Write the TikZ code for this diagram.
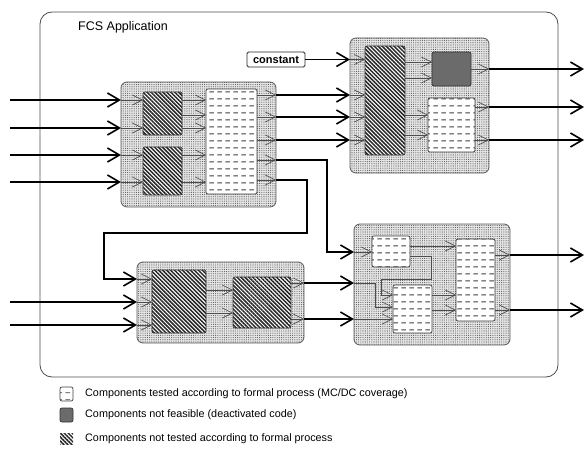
\documentclass[tikz,border=0pt]{standalone}
\usepackage{fontspec}
\setmainfont{Liberation Sans}
\usetikzlibrary{arrows.meta, patterns.meta, positioning}

% horizontal dashes used for the MC/DC boxes
\pgfdeclarepattern{
  name=hdashes,
  type=uncolored,
  bottom left={\pgfpoint{0pt}{0pt}},
  top right={\pgfpoint{8pt}{7pt}},
  tile size={\pgfpoint{8pt}{7pt}},
  code={
    \pgfsetlinewidth{1pt}
    \pgfpathmoveto{\pgfpoint{1.5pt}{3.5pt}}\pgfpathlineto{\pgfpoint{6.5pt}{3.5pt}}
    \pgfusepath{stroke}
  }
}

\begin{document}
\begin{tikzpicture}[x=1pt, y=-1pt,
    blk/.style={draw=black!65, line width=0.8pt, rounded corners=6pt,
      preaction={fill=black!10}, pattern={Dots[distance=2.2pt, radius=0.55pt]},
      pattern color=black!65, inner sep=0pt, outer sep=0pt},
    hatch/.style={draw=black!80, line width=0.7pt, rounded corners=2pt,
      preaction={fill=white}, pattern={Lines[angle=-45, distance=2.8pt, line width=1.5pt]},
      pattern color=black!85, inner sep=0pt, outer sep=0pt},
    mcdc/.style={draw=black!75, line width=0.7pt, rounded corners=2pt,
      preaction={fill=white}, pattern=hdashes, pattern color=black!75,
      inner sep=0pt, outer sep=0pt},
    dead/.style={draw=black!80, fill=black!58, line width=0.7pt, rounded corners=2pt,
      inner sep=0pt, outer sep=0pt},
    boxsize/.style 2 args={minimum width=#1pt, minimum height=#2pt},
    wire/.style={line width=1.6pt, -{Straight Barb[length=12pt, width=14pt]}},
    port/.style={line width=0.6pt, draw=black!70, -{Straight Barb[length=10pt, width=10pt]}},
    legtxt/.style={inner sep=0pt, font=\fontsize{10.8}{12}\selectfont},
  ]
  \useasboundingbox (0,0) rectangle (586,452);

  % application frame
  \node[draw=black!70, line width=0.8pt, rounded corners=12pt, boxsize={518}{365}, inner sep=0pt] (fcs) at (299,194.5) {};
  \node[anchor=west, inner sep=0pt, font=\fontsize{12.5}{14}\selectfont] (fcslbl) at (78,27) {FCS Application};
  \node[draw=black!85, line width=0.8pt, rounded corners=1.5pt, boxsize={58}{15}, inner sep=0pt, font=\fontsize{11}{12}\selectfont\bfseries] (const) at (276,59.5) {constant};

  % blocks
  \node[blk, boxsize={155}{125}] (blkA) at (198.5,144.5) {};
  \node[blk, boxsize={139}{135}] (blkB) at (419.5,105.5) {};
  \node[blk, boxsize={167}{81}] (blkD) at (220.5,302.5) {};
  \node[blk, boxsize={156}{121}] (blkC) at (432,284.5) {};

  % components
  \node[hatch, boxsize={39}{43}] (A1) at (162.5,113.5) {};
  \node[hatch, boxsize={39}{48}] (A2) at (162.5,171) {};
  \node[mcdc, boxsize={51}{105}] (A3) at (231.5,141.5) {};
  \node[hatch, boxsize={40}{109}] (B1) at (385,100.5) {};
  \node[dead, boxsize={39}{34}] (B2) at (451.5,69) {};
  \node[mcdc, boxsize={47}{54}] (B3) at (451.5,125) {};
  \node[hatch, boxsize={54}{63}] (D1) at (179,301.5) {};
  \node[hatch, boxsize={58}{51}] (D2) at (262,302.5) {};
  \node[mcdc, boxsize={38}{31}] (C1) at (391,251.5) {};
  \node[mcdc, boxsize={39}{48}] (C2) at (412.5,309) {};
  \node[mcdc, boxsize={39}{82}] (C3) at (475.5,280) {};

  % block A
  \foreach \y/\t in {100/A1, 128/A1, 155/A2, 182/A2}{
    \coordinate (src) at (10,\y);
    \draw[wire] (src) -- (blkA.west |- src);
    \draw[port] (blkA.west |- src) -- (\t.west |- src);
  }
  \foreach \y in {100, 115, 128}
    \draw[port] (A1.east |- 0,\y) -- (A3.west |- 0,\y);
  \foreach \y in {155, 182}
    \draw[port] (A2.east |- 0,\y) -- (A3.west |- 0,\y);
  \foreach \y in {95, 117, 140, 160, 180}
    \draw[port] (A3.east |- 0,\y) -- (blkA.east |- 0,\y);

  % block B
  \foreach \y in {95, 117, 140}{
    \draw[wire] (blkA.east |- 0,\y) -- (blkB.west |- 0,\y);
    \draw[port] (blkB.west |- 0,\y) -- (B1.west |- 0,\y);
  }
  \draw[wire] (const) -- (blkB.west |- const);
  \draw[port] (blkB.west |- const) -- (B1.west |- const);
  \foreach \y in {62, 78}
    \draw[port] (B1.east |- 0,\y) -- (B2.west |- 0,\y);
  \foreach \y in {115, 135}
    \draw[port] (B1.east |- 0,\y) -- (B3.west |- 0,\y);
  \foreach \y/\s in {69/B2, 107/B3, 140/B3}{
    \coordinate (dst) at (584,\y);
    \draw[port] (\s.east |- dst) -- (blkB.east |- dst);
    \draw[wire] (blkB.east |- dst) -- (dst);
  }

  % A to C and A to D
  \draw[wire] (blkA.east |- 0,160) -| (327,252) -- (blkC.west |- 0,252);
  \draw[port] (blkC.west |- 0,252) -- (C1.west |- 0,252);
  \draw[wire] (blkA.east |- 0,180) -| (307,233) -| (104,279) -- (blkD.west |- 0,279);
  \draw[port] (blkD.west |- 0,279) -- (D1.west |- 0,279);

  % block D
  \foreach \y in {302, 325}{
    \coordinate (src) at (10,\y);
    \draw[wire] (src) -- (blkD.west |- src);
    \draw[port] (blkD.west |- src) -- (D1.west |- src);
  }
  \foreach \y in {290, 313}
    \draw[port] (D1.east |- 0,\y) -- (D2.west |- 0,\y);
  \foreach \y in {283, 319}{
    \draw[port] (D2.east |- 0,\y) -- (blkD.east |- 0,\y);
    \draw[wire] (blkD.east |- 0,\y) -- (blkC.west |- 0,\y);
  }

  % block C
  \draw[port] (blkC.west |- 0,283) -| (375,307) -- (C2.west |- 0,307);
  \draw[port] (blkC.west |- 0,319) -- (C2.west |- 0,319);
  \draw[port] (C1.east |- 0,256) -| (431,279) -| (381,295) -- (C2.west |- 0,295);
  \draw[port] (C1.east |- 0,246) -- (C3.west |- 0,246);
  \foreach \y in {295, 310}
    \draw[port] (C2.east |- 0,\y) -- (C3.west |- 0,\y);
  \foreach \y in {255, 310}{
    \coordinate (dst) at (584,\y);
    \draw[port] (C3.east |- dst) -- (blkC.east |- dst);
    \draw[wire] (blkC.east |- dst) -- (dst);
  }

  % legend
  \node[mcdc, boxsize={13}{14}] (lg1) at (66.5,394) {};
  \node[dead, boxsize={13}{14}] (lg2) at (66.5,415) {};
  \node[hatch, draw=none, rounded corners=0pt, boxsize={13}{11}] (lg3) at (66.5,439) {};
  \node[legtxt, right=12pt of lg1] (lt1) {Components tested according to formal process (MC/DC coverage)};
  \node[legtxt, right=12pt of lg2] (lt2) {Components not feasible (deactivated code)};
  \node[legtxt, right=12pt of lg3] (lt3) {Components not tested according to formal process};
\end{tikzpicture}
\end{document}
